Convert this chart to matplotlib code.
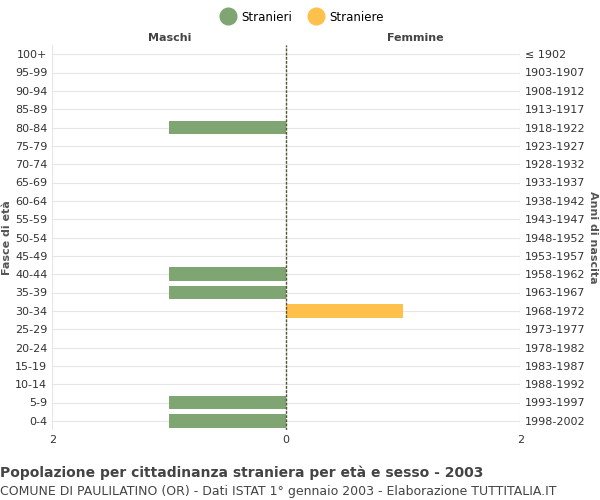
import matplotlib.pyplot as plt
from matplotlib.lines import Line2D

age_groups = ["0-4", "5-9", "10-14", "15-19", "20-24", "25-29", "30-34", "35-39", "40-44", "45-49",
              "50-54", "55-59", "60-64", "65-69", "70-74", "75-79", "80-84", "85-89", "90-94", "95-99", "100+"]
birth_years = ["1998-2002", "1993-1997", "1988-1992", "1983-1987", "1978-1982", "1973-1977", "1968-1972",
               "1963-1967", "1958-1962", "1953-1957", "1948-1952", "1943-1947", "1938-1942", "1933-1937",
               "1928-1932", "1923-1927", "1918-1922", "1913-1917", "1908-1912", "1903-1907", "≤ 1902"]
males = [1, 1, 0, 0, 0, 0, 0, 1, 1, 0, 0, 0, 0, 0, 0, 0, 1, 0, 0, 0, 0]
females = [0, 0, 0, 0, 0, 0, 1, 0, 0, 0, 0, 0, 0, 0, 0, 0, 0, 0, 0, 0, 0]

c_m = "#7fa572"
c_f = "#ffc04c"

fig = plt.figure(figsize=(6, 5), dpi=100)
ax = fig.add_axes([0.087, 0.14, 0.78, 0.77])
y = range(len(age_groups))
ax.barh(y, [-v for v in males], height=0.75, color=c_m)
ax.barh(y, females, height=0.75, color=c_f)
ax.set_xlim(-2, 2)
ax.set_ylim(-0.5, len(age_groups) - 0.5)
ax.set_xticks([-2, 0, 2])
ax.set_xticklabels(["2", "0", "2"])
ax.set_yticks(list(y))
ax.set_yticklabels(age_groups)
ax.grid(True, color="#e6e6e6", linewidth=0.8)
ax.set_axisbelow(True)
ax.axvline(0, color="#555533", linestyle=(0, (2, 1)), linewidth=1)
for s in ax.spines.values():
    s.set_visible(False)
ax.tick_params(length=0, labelsize=8, colors="#333333")
ax2 = ax.twinx()
ax2.set_ylim(ax.get_ylim())
ax2.set_yticks(list(y))
ax2.set_yticklabels(birth_years)
ax2.tick_params(length=0, labelsize=8, colors="#333333")
for s in ax2.spines.values():
    s.set_visible(False)
fig.text(0.012, 0.525, "Fasce di età", fontsize=8, fontweight="bold", color="#555555",
         rotation=90, ha="center", va="center")
fig.text(0.988, 0.525, "Anni di nascita", fontsize=8, fontweight="bold", color="#555555",
         rotation=270, ha="center", va="center")
ax.text(-1, 1.005, "Maschi", transform=ax.get_xaxis_transform(), ha="center", va="bottom",
        fontsize=8, fontweight="bold", color="#444444")
ax.text(1.1, 1.005, "Femmine", transform=ax.get_xaxis_transform(), ha="center", va="bottom",
        fontsize=8, fontweight="bold", color="#444444")
handles = [Line2D([], [], marker="o", linestyle="", markersize=12, color=c_m),
           Line2D([], [], marker="o", linestyle="", markersize=12, color=c_f)]
fig.legend(handles, ["Stranieri", "Straniere"], loc="upper center", bbox_to_anchor=(0.5, 1.0),
           ncol=2, frameon=False, fontsize=8.5, handletextpad=0.1, columnspacing=1)
fig.text(0.0, 0.045, "Popolazione per cittadinanza straniera per età e sesso - 2003",
         fontsize=10, fontweight="bold", color="#444444")
fig.text(0.0, 0.01, "COMUNE DI PAULILATINO (OR) - Dati ISTAT 1° gennaio 2003 - Elaborazione TUTTITALIA.IT",
         fontsize=9, color="#444444")
fig.savefig("out.png", dpi=100)
